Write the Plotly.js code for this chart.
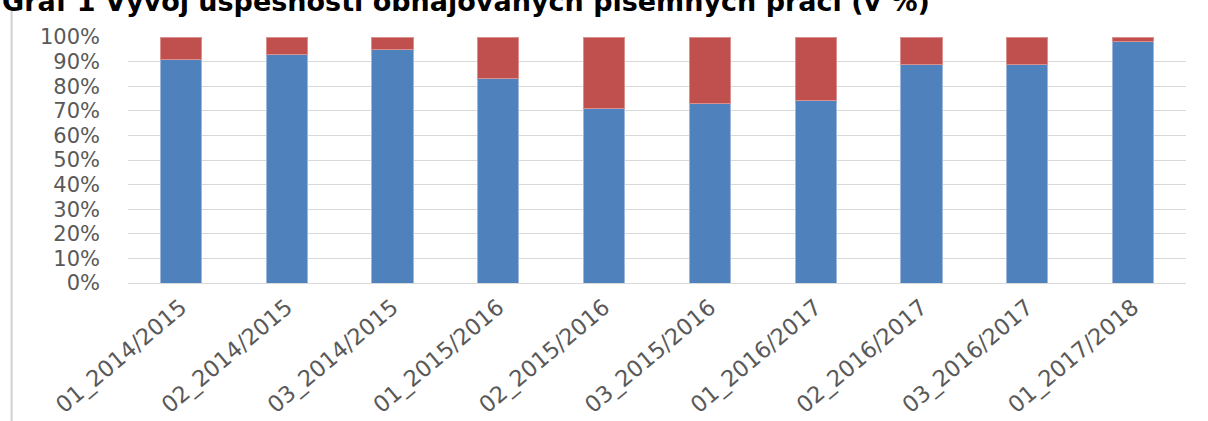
<!DOCTYPE html>
<html>
<head>
<meta charset="utf-8">
<script src="https://cdn.plot.ly/plotly-3.0.1.min.js"></script>
<style>
html,body{margin:0;padding:0;background:#fff;}
#chart{width:1208px;height:421px;}
</style>
</head>
<body>
<div id="chart"></div>
<script>
const categories = ["01_2014/2015","02_2014/2015","03_2014/2015","01_2015/2016","02_2015/2016","03_2015/2016","01_2016/2017","02_2016/2017","03_2016/2017","01_2017/2018"];
const uspesne = [91, 93, 95, 83, 71, 73, 74, 89, 89, 98];
const neuspesne = [9, 7, 5, 17, 29, 27, 26, 11, 11, 2];
const yTickVals = [0,10,20,30,40,50,60,70,80,90,100];
const yTickText = ["0%","10%","20%","30%","40%","50%","60%","70%","80%","90%","100%"];
const titleText = "Graf 1 Vývoj úspěšnosti obhajovaných písemných prací (v %)";

const traces = [
  {type:'bar', x:categories, y:uspesne, name:'úspěšné', marker:{color:'#4F81BD', line:{color:'#9DB8DC', width:1}}, hoverinfo:'x+y'},
  {type:'bar', x:categories, y:neuspesne, name:'neúspěšné', marker:{color:'#C0504D', line:{color:'#D9908E', width:1}}, hoverinfo:'x+y'}
];

const layout = {
  width:1208, height:421,
  margin:{l:128, r:22, t:37, b:138, pad:0},
  paper_bgcolor:'#ffffff', plot_bgcolor:'#ffffff',
  barmode:'stack', bargap:0.61,
  showlegend:false,
  font:{family:'DejaVu Sans, sans-serif', color:'#595959'},
  xaxis:{
    type:'category', tickangle:-40, ticks:'', showgrid:false, showline:false, zeroline:false,
    ticklabelstandoff:6,
    tickfont:{family:'DejaVu Sans, sans-serif', size:22.5, color:'#595959'}
  },
  yaxis:{
    range:[0,100], tickvals:yTickVals, ticktext:yTickText, ticks:'',
    showgrid:true, gridcolor:'#D9D9D9', gridwidth:1, zeroline:true, zerolinecolor:'#D9D9D9', zerolinewidth:1,
    showline:false, ticklabelstandoff:27,
    tickfont:{family:'DejaVu Sans, sans-serif', size:21, color:'#595959'}
  },
  annotations:[{
    text:'<b>'+titleText+'</b>', xref:'paper', yref:'paper', x:-0.121, y:1.072,
    xanchor:'left', yanchor:'bottom', showarrow:false,
    font:{family:'DejaVu Sans, sans-serif', size:27, color:'#000000'}
  }],
  shapes:[{
    type:'line', xref:'paper', yref:'paper', x0:-0.110, x1:-0.110, y0:1.12, y1:-0.6,
    line:{color:'#D0D0D0', width:2}
  }]
};

Plotly.newPlot('chart', traces, layout, {displayModeBar:false, staticPlot:true});
</script>
</body>
</html>
